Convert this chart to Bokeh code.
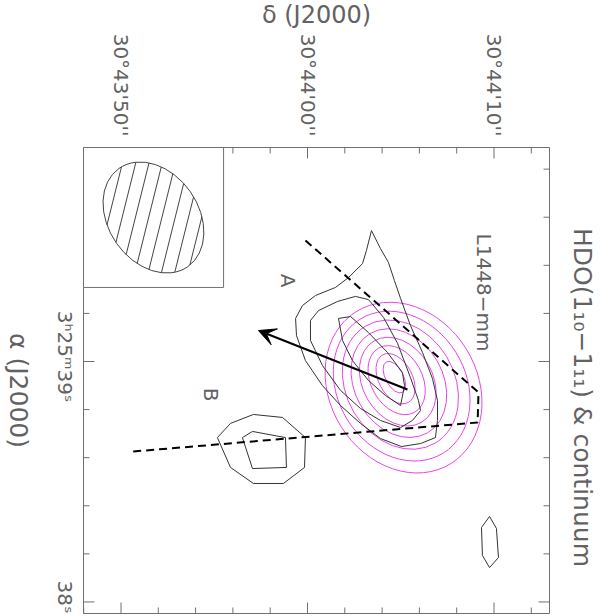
import numpy as np
from bokeh.plotting import figure
from bokeh.models import Range1d, Arrow, VeeHead
from bokeh.core.properties import value
from bokeh.embed import file_html
from bokeh.resources import INLINE

# ---------------- axes: declination (horizontal) and right ascension (vertical) ----------------
dec_major = [-10.0, 0.0, 10.0]            # arcsec offsets from 30°44'00"
dec_major_labels = ["30°43'50''", "30°44'00''", "30°44'10''"]
dec_minor = [-12.0, -8.0, -6.0, -4.0, -2.0, 2.0, 4.0, 6.0, 8.0, 12.0]
ra_major_s = [38.0, 39.0]                 # seconds of 3h25m
ra_major_labels = ["38ˢ", "3ʰ25ᵐ39ˢ"]
ra_minor_s = [38.2, 38.4, 38.6, 38.8, 39.2, 39.4, 39.6, 39.8]
ra_ref_s = 39.0
dec_ref_deg = 30.0 + 44.0 / 60.0
arcsec_per_s = 15.0 * np.cos(np.radians(dec_ref_deg))

x_title = "δ (J2000)"
y_title = "α (J2000)"
map_title = "HDO(1₁₀−1₁₁) & continuum"

# ---------------- HDO contours (black), offsets in arcsec (x: dec, y: RA) ----------------
hdo1_x = [3.43, 3.91, 4.34, 4.66, 4.99, 5.52, 6.17, 6.70, 6.97, 6.97, 6.86, 6.06, 5.04, 3.91, 2.84,
          1.77, 0.80, -0.11, -0.59, -0.64, -0.27, 0.43, 1.50, 2.20, 2.95, 3.16, 3.43]
hdo1_y = [7.02, 6.06, 5.31, 4.34, 3.38, 1.93, 0.48, -0.91, -2.09, -3.16, -4.08, -4.40, -4.56, -4.13, -3.32,
          -2.36, -1.29, 0.05, 1.39, 2.31, 3.00, 3.54, 3.97, 4.50, 5.25, 5.95, 7.02]
hdo2_x = [0.16, 0.59, 1.61, 2.57, 3.27, 4.08, 4.83, 5.52, 5.95, 6.06, 5.63, 4.99, 3.91, 2.84, 1.77, 0.80, 0.16, 0.16]
hdo2_y = [2.20, 2.73, 3.22, 3.49, 3.32, 2.36, 0.97, -0.86, -2.09, -2.63, -3.16, -3.54, -3.16, -2.52, -1.55, -0.21, 1.13, 2.20]
hdo3_x = [1.66, 2.31, 3.27, 4.29, 5.09, 5.20, 4.99, 4.18, 3.27, 2.41, 1.88, 1.66]
hdo3_y = [2.31, 2.41, 1.55, 0.48, -0.59, -1.29, -2.36, -1.82, -1.02, 0.05, 1.13, 2.31]
# source B
hdoB1_x = [-4.83, -4.13, -2.90, -1.34, -0.11, -0.16, -1.29, -2.90, -4.13, -4.83]
hdoB1_y = [-4.08, -3.32, -2.84, -3.00, -4.08, -5.68, -6.54, -6.54, -5.68, -4.08]
hdoB2_x = [-3.49, -2.95, -1.18, -1.13, -2.95, -3.49]
hdoB2_y = [-4.08, -3.75, -4.08, -5.68, -5.74, -4.08]
# small isolated contour
hdoC_x = [9.76, 10.13, 10.24, 9.76, 9.38, 9.33, 9.76]
hdoC_y = [-8.31, -8.95, -10.51, -11.05, -10.40, -8.90, -8.31]

# ---------------- continuum contours (magenta): centre, full axes (arcsec), PA (deg) ----------------
cont_x = [5.15, 5.05, 4.98, 4.90, 4.84, 4.78, 4.72, 4.66]
cont_y = [-1.40, -1.32, -1.24, -1.16, -1.08, -1.00, -0.92, -0.84]
cont_major = [9.60, 8.45, 7.30, 6.15, 5.05, 3.95, 2.90, 1.85]
cont_minor = [7.90, 6.85, 5.80, 4.75, 3.75, 2.75, 1.80, 0.95]
cont_pa = [-58, -58, -59, -60, -60, -61, -62, -62]

# ---------------- outflow cones (dashed) and arrow ----------------
cone_x = [-0.11, 9.17, 9.12, -9.38]
cone_y = [6.49, -1.66, -3.27, -4.83]
arrow_x = [5.36, -2.63]
arrow_y = [-1.50, 1.66]

# ---------------- beam ----------------
beam_x, beam_y = -8.26, 7.72
beam_major, beam_minor, beam_pa = 6.43, 4.83, -55.0
beam_box_right, beam_box_bottom = -4.50, 3.97

# ---------------- labels in the map ----------------
lab_text = ["L1448−mm", "A", "B"]
lab_x = [9.46, -1.02, -5.20]
lab_y = [3.70, 4.34, -1.77]

# ---------------- layout (style): the canvas spans the whole page ----------------
PX = 18.65                                   # pixels per arcsec
W, H = 600, 616
OX, OY = 307, 361                            # page pixel of the (0, 0) offset
CX0, CX1 = -OX / PX, (W - OX) / PX           # canvas extent in arcsec
CY0, CY1 = (OY - H) / PX, OY / PX
X0, X1 = (83 - OX) / PX, (549 - OX) / PX     # map frame
Y0, Y1 = (OY - 613) / PX, (OY - 147) / PX

GRAY = "#707070"
TXT = "#626262"
FONT = "DejaVu Sans"

p = figure(width=W, height=H, output_backend="svg", toolbar_location=None,
           x_range=Range1d(CX0, CX1), y_range=Range1d(CY0, CY1),
           x_axis_location=None, y_axis_location=None, min_border=0)
p.outline_line_color = None
p.background_fill_color = "white"
p.border_fill_color = "white"
p.xgrid.visible = False
p.ygrid.visible = False

ra_major = [(s - ra_ref_s) * arcsec_per_s for s in ra_major_s]
ra_minor = [(s - ra_ref_s) * arcsec_per_s for s in ra_minor_s]

# map frame
p.quad(left=[X0], right=[X1], bottom=[Y0], top=[Y1], fill_color=None, line_color=GRAY, line_width=1)

# ticks (inside the frame on all four sides)
LMAJ, LMIN = 11 / PX, 6 / PX
dec_all = dec_major + dec_minor
dec_len = [LMAJ] * len(dec_major) + [LMIN] * len(dec_minor)
ra_all = ra_major + ra_minor
ra_len = [LMAJ] * len(ra_major) + [LMIN] * len(ra_minor)
tx0 = dec_all + dec_all + [X0] * len(ra_all) + [X1] * len(ra_all)
ty0 = [Y1] * len(dec_all) + [Y0] * len(dec_all) + ra_all + ra_all
tx1 = dec_all + dec_all + [X0 + l for l in ra_len] + [X1 - l for l in ra_len]
ty1 = [Y1 - l for l in dec_len] + [Y0 + l for l in dec_len] + ra_all + ra_all
p.segment(x0=tx0, y0=ty0, x1=tx1, y1=ty1, line_color=GRAY, line_width=1)

# tick labels
p.text(x=dec_major, y=[Y1 + 11 / PX] * len(dec_major), text=dec_major_labels, angle=-np.pi / 2,
       text_align="right", text_baseline="middle", text_font=value(FONT),
       text_font_size="20px", text_color=TXT)
p.text(x=[X0 - 19 / PX] * len(ra_major), y=[v + 5 / PX for v in ra_major], text=ra_major_labels,
       angle=-np.pi / 2, text_align="center", text_baseline="middle", text_font=value(FONT),
       text_font_size="20px", text_color=TXT)

# axis titles
p.text(x=[(316 - OX) / PX], y=[(OY - 14) / PX], text=[x_title], text_align="center",
       text_baseline="middle", text_font=value(FONT), text_font_size="24px", text_color=TXT)
p.text(x=[(18 - OX) / PX], y=[(OY - 390) / PX], text=[y_title], angle=-np.pi / 2,
       text_align="center", text_baseline="middle", text_font=value(FONT),
       text_font_size="25px", text_color=TXT)
p.text(x=[(582 - OX) / PX], y=[(OY - 397) / PX], text=[map_title], angle=-np.pi / 2,
       text_align="center", text_baseline="middle", text_font=value(FONT),
       text_font_size="25px", text_color=TXT)

# continuum (magenta)
p.ellipse(x=cont_x, y=cont_y, width=cont_major, height=cont_minor, angle=cont_pa,
          angle_units="deg", fill_color=None, line_color="#e845e8", line_width=1)

# HDO (black)
for cx, cy in [(hdo1_x, hdo1_y), (hdo2_x, hdo2_y), (hdo3_x, hdo3_y),
               (hdoB1_x, hdoB1_y), (hdoB2_x, hdoB2_y), (hdoC_x, hdoC_y)]:
    p.line(cx, cy, line_color="#333333", line_width=1)

# outflow cones
p.line(cone_x, cone_y, line_color="black", line_width=2, line_dash="8 5")

# arrow
p.add_layout(Arrow(x_start=arrow_x[0], y_start=arrow_y[0], x_end=arrow_x[1], y_end=arrow_y[1],
                   line_width=2, line_color="black",
                   end=VeeHead(size=17, fill_color="black", line_color="black", line_width=1)))

# labels in the map
p.text(x=lab_x, y=lab_y, text=lab_text, angle=-np.pi / 2, text_align="center",
       text_baseline="middle", text_font=value(FONT), text_font_size="20px", text_color=TXT)

# beam box and hatched beam ellipse (covering the ticks under it)
p.quad(left=[X0], right=[beam_box_right], bottom=[beam_box_bottom], top=[Y1],
       fill_color="white", line_color=GRAY, line_width=1)
p.ellipse(x=[beam_x], y=[beam_y], width=[beam_major], height=[beam_minor], angle=[beam_pa],
          angle_units="deg", fill_color="white", line_color="#444444", line_width=1)

# hatching (style only): chords of the beam ellipse
a, b = beam_major / 2, beam_minor / 2
phi = np.radians(beam_pa)
th = np.radians(76.0)
step = 0.69
d = np.array([np.cos(th), np.sin(th)])
n = np.array([-np.sin(th), np.cos(th)])
R = np.array([[np.cos(phi), np.sin(phi)], [-np.sin(phi), np.cos(phi)]])
dl, nl = R @ d, R @ n
hx0, hy0, hx1, hy1 = [], [], [], []
for k in range(-7, 8):
    t = k * step + 0.25
    q = t * nl
    A = (dl[0] / a) ** 2 + (dl[1] / b) ** 2
    B = 2 * (q[0] * dl[0] / a ** 2 + q[1] * dl[1] / b ** 2)
    C = (q[0] / a) ** 2 + (q[1] / b) ** 2 - 1
    disc = B * B - 4 * A * C
    if disc <= 0:
        continue
    s1 = (-B - np.sqrt(disc)) / (2 * A)
    s2 = (-B + np.sqrt(disc)) / (2 * A)
    c = np.array([beam_x, beam_y]) + t * n
    hx0.append(c[0] + s1 * d[0]); hy0.append(c[1] + s1 * d[1])
    hx1.append(c[0] + s2 * d[0]); hy1.append(c[1] + s2 * d[1])
p.segment(x0=hx0, y0=hy0, x1=hx1, y1=hy1, line_color="#444444", line_width=1)

open("out.html", "w").write(file_html(p, INLINE))
